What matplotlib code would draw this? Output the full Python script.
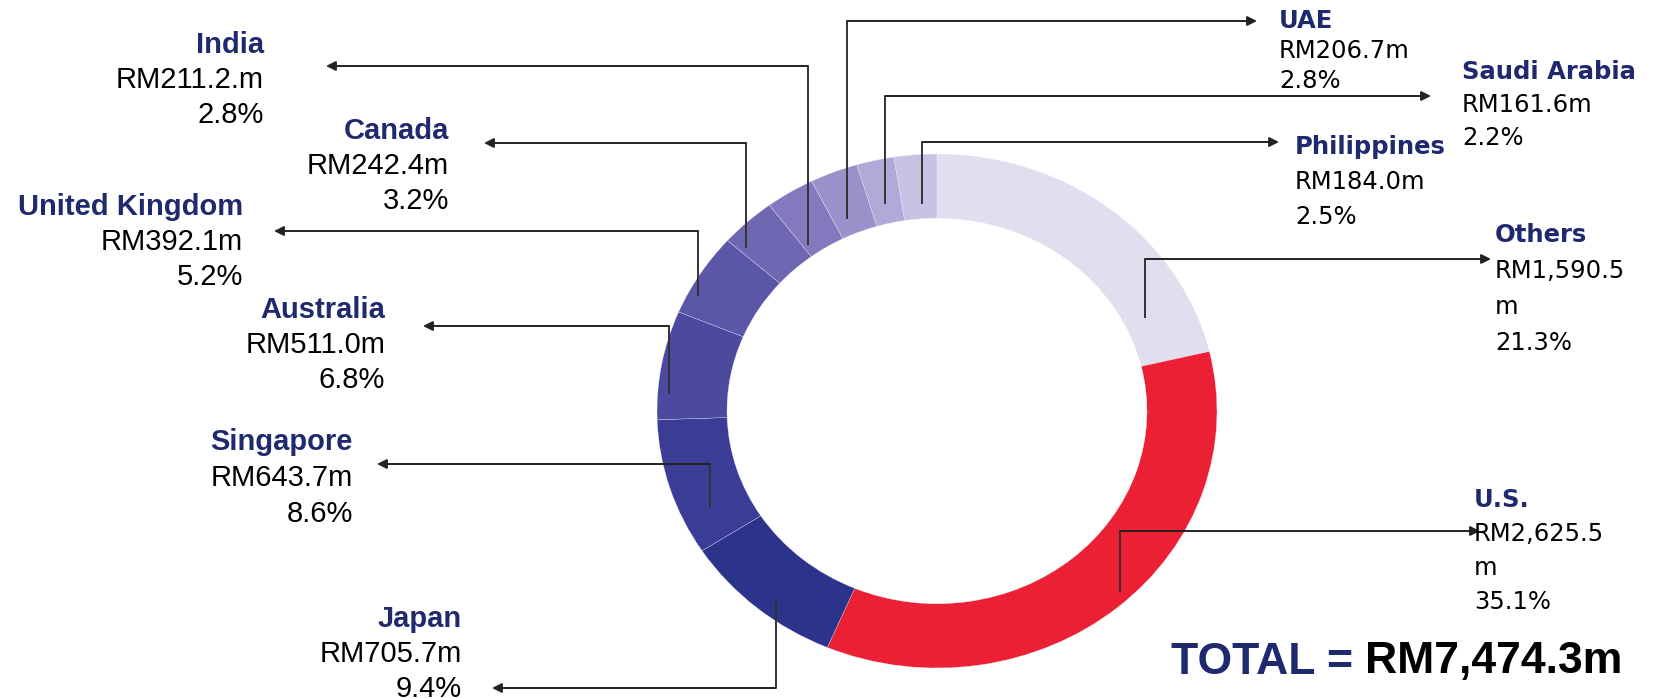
import numpy as np
import matplotlib
matplotlib.use("Agg")
import matplotlib.pyplot as plt

# export destinations, clockwise from 12 o'clock
countries = ['Others', 'U.S.', 'Japan', 'Singapore', 'Australia', 'United Kingdom',
             'Canada', 'India', 'UAE', 'Saudi Arabia', 'Philippines']
amounts = [1590.5, 2625.5, 705.7, 643.7, 511.0, 392.1, 242.4, 211.2, 206.7, 161.6, 184.0]
amount_text = ['RM1,590.5\nm', 'RM2,625.5\nm', 'RM705.7m', 'RM643.7m', 'RM511.0m', 'RM392.1m',
               'RM242.4m', 'RM211.2.m', 'RM206.7m', 'RM161.6m', 'RM184.0m']
shares = [21.3, 35.1, 9.4, 8.6, 6.8, 5.2, 3.2, 2.8, 2.8, 2.2, 2.5]
total_text = 'RM7,474.3m'

colors = ['#E1DEF0', '#EC2035', '#2B338B', '#3A3C96', '#4B4A9E', '#5B56A8',
          '#6F67B2', '#8479BE', '#9B91CA', '#B2A9D8', '#C8C2E4']
navy = '#1F2A6E'

W, H = 1678, 698
fig = plt.figure(figsize=(W / 100, H / 100), dpi=100)

# donut (slightly wider than tall, like the original)
cx, cy, rx, ry = 937, 411, 280, 257
axp = fig.add_axes([(cx - rx) / W, 1 - (cy + ry) / H, 2 * rx / W, 2 * ry / H])
axp.pie(amounts, colors=colors, startangle=90, counterclock=False, radius=1,
        wedgeprops=dict(width=0.25, edgecolor='#f4f4fa', linewidth=0.2))
axp.set_aspect('auto')
axp.set_xlim(-1, 1)
axp.set_ylim(-1, 1)
axp.axis('off')

# overlay in pixel coords for labels + leader lines
ax = fig.add_axes([0, 0, 1, 1])
ax.set_xlim(0, W)
ax.set_ylim(H, 0)
ax.axis('off')
ax.patch.set_alpha(0)

# leader lines: anchor x, anchor y, level y, arrow tip x
leaders = {
    'Others': (1145, 318, 259, 1491),
    'U.S.': (1120, 592, 531, 1480),
    'Japan': (776, 600, 688, 492),
    'Singapore': (710, 508, 464, 377),
    'Australia': (669, 394, 326, 423),
    'United Kingdom': (698, 296, 231, 274),
    'Canada': (746, 248, 143, 484),
    'India': (808, 245, 66, 326),
    'UAE': (847, 219, 21, 1257),
    'Saudi Arabia': (885, 204, 96, 1431),
    'Philippines': (922, 204, 142, 1279),
}
# label blocks: side, x, first line y, line step
blocks = {
    'Others': ('R', 1495, 235, 36),
    'U.S.': ('R', 1474, 500, 34),
    'Japan': ('L', 462, 619, 35),
    'Singapore': ('L', 353, 442, 36),
    'Australia': ('L', 385, 310, 35),
    'United Kingdom': ('L', 243, 207, 35),
    'Canada': ('L', 449, 131, 35),
    'India': ('L', 264, 45, 35),
    'UAE': ('R', 1279, 21, 30),
    'Saudi Arabia': ('R', 1462, 72, 33),
    'Philippines': ('R', 1295, 147, 35),
}

for name, amt, pct in zip(countries, amount_text, shares):
    x0, y0, yl, xt = leaders[name]
    ax.plot([x0, x0], [y0, yl], color='#333333', lw=1.4, solid_capstyle='butt')
    ax.annotate('', xy=(xt, yl), xytext=(x0, yl),
                arrowprops=dict(arrowstyle='-|>', color='#222222', lw=1.4,
                                mutation_scale=14, shrinkA=0, shrinkB=0))

    side, bx, by, step = blocks[name]
    lines = [name] + amt.split('\n') + ['%.1f%%' % pct]
    if side == 'L':
        fam, ha, fs = 'Liberation Sans', 'right', 21
    else:
        fam, ha, fs = 'DejaVu Sans', 'left', 17.5
    for i, s in enumerate(lines):
        ax.text(bx, by + i * step, s, ha=ha, va='center', fontsize=fs, family=fam,
                color=navy if i == 0 else 'black',
                fontweight='bold' if i == 0 else 'normal')

t1 = ax.text(1171, 662, 'TOTAL = ', ha='left', va='center', fontsize=32,
             family='Liberation Sans', fontweight='bold', color=navy)
ax.annotate(total_text, xycoords=t1, xy=(1, 0.5), va='center', ha='left',
            fontsize=32, family='Liberation Sans', fontweight='bold', color='black')

fig.savefig('out.png', dpi=100)
